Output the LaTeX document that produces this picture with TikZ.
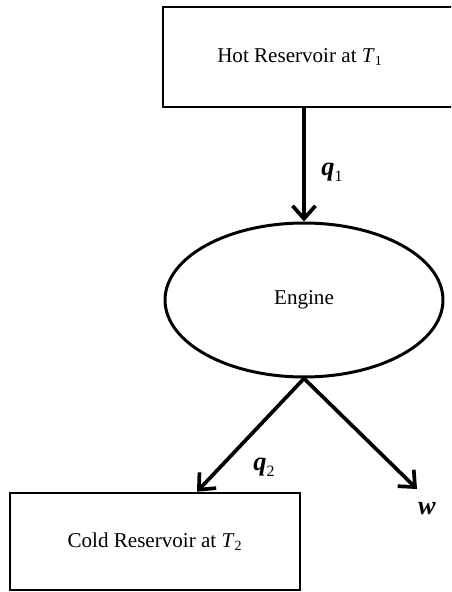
\documentclass[tikz,border=0pt]{standalone}
\usepackage{fontspec}
\setmainfont{Liberation Serif}
\usepackage{tikz}
\usetikzlibrary{arrows.meta,positioning,shapes.geometric}

\newcommand{\flowsub}[1]{\raisebox{-3.5pt}{\upshape\mdseries\fontsize{9}{9}\selectfont #1}}

\tikzset{
  reservoir/.style={draw, line width=1.5pt, rectangle, inner sep=0pt, font=\fontsize{12}{14}\selectfont},
  engine/.style={draw, line width=1.7pt, ellipse, inner sep=0pt, minimum width=5.56cm, minimum height=3.08cm, font=\fontsize{12}{14}\selectfont},
  flow/.style={line width=2.1pt, -{Straight Barb[length=2.6mm,width=4.6mm,line width=2.1pt]}},
  flowlabel/.style={font=\fontsize{15}{16}\selectfont\bfseries\itshape, inner sep=1pt}
}

\begin{document}
\begin{tikzpicture}[x=0.02cm, y=-0.02cm]
\useasboundingbox (0,0) rectangle (451,592);
\clip (0,0) rectangle (451,592);

% reservoirs and engine
\node[reservoir, minimum width=6.24cm, minimum height=2cm,
  label={[xshift=-0.38cm, font=\fontsize{12}{14}\selectfont]center:Hot Reservoir at \textit{T}\textsubscript{1}}] (hot) at (319,57) {};
\node[engine] (eng) at (304,300) {Engine};
\node[reservoir, minimum width=5.8cm, minimum height=1.94cm] (cold) at (155,541.5) {Cold Reservoir at \textit{T}\textsubscript{2}};

% heat and work
\coordinate (wend) at (417,489);
\draw[flow] (eng.north |- hot.south) -- (eng.north);
\draw[flow] (eng.south) -- ([xshift=0.84cm]cold.north);
\draw[flow] (eng.south) -- (wend);

\node[flowlabel] (q1) at (332,172) {q\flowsub{1}};
\node[flowlabel] (q2) at (264,467) {q\flowsub{2}};
\node[flowlabel] (w) at (427,509) {w};
\end{tikzpicture}
\end{document}
